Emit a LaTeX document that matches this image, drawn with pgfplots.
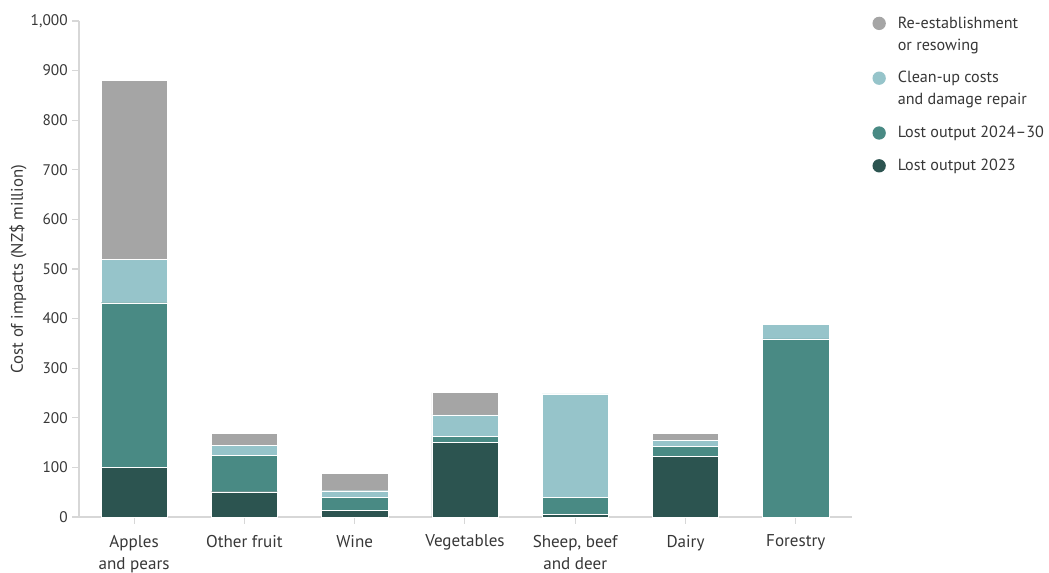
\documentclass[border=0pt]{standalone}
\usepackage{pgfplots}
\pgfplotsset{compat=1.18}
\usepackage{fontspec}
\setmainfont{PT Sans}
\definecolor{cGray}{RGB}{165,165,165}
\definecolor{cLight}{RGB}{150,196,202}
\definecolor{cTeal}{RGB}{73,138,132}
\definecolor{cDark}{RGB}{44,84,80}
\definecolor{cAxis}{RGB}{215,215,215}
\definecolor{cText}{RGB}{55,55,55}
\begin{document}
\begin{tikzpicture}
\path[use as bounding box] (-59.25pt,-41.25pt) rectangle (727.5pt,387.75pt);
\begin{axis}[
  scale only axis,
  width=579.75pt, height=372pt,
  ybar stacked,
  bar width=0.6,
  xmin=-0.5, xmax=6.51,
  ymin=0, ymax=1000,
  ytick={0,100,...,1000},
  xtick=data,
  xticklabels={{Apples\\and pears},{Other fruit},{Wine},{Vegetables},{Sheep, beef\\and deer},{Dairy},{Forestry}},
  x tick label style={align=center, font=\fontsize{12.8}{16.5}\selectfont, text=cText, yshift=-5pt},
  y tick label style={font=\fontsize{11.5}{13}\selectfont, text=cText},
  /pgf/number format/assume math mode=true,
  /pgf/number format/1000 sep={,},
  axis x line*=bottom,
  axis y line*=left,
  axis line style={cAxis, line width=0.8pt},
  tick style={cAxis, line width=0.8pt},
  tick align=outside,
  major tick length=5pt,
  ylabel={Cost of impacts (NZ\$ million)},
  ylabel style={at={(axis description cs:-0.0789,0.5)}, anchor=center, font=\fontsize{12.6}{14}\selectfont, text=cText},
  legend style={draw=none, at={(axis description cs:1.021,1.02)}, anchor=north west,
    font=\fontsize{12.1}{16.5}\selectfont, text=cText, row sep=10.5pt, column sep=7pt,
    nodes={align=left}},
  legend cell align=left,
  reverse legend,
]
\addplot[fill=cDark, draw=white, line width=0.3pt, legend image code/.code={\path[fill=none,draw=none] (-5pt,-5pt) rectangle (5pt,5pt);\fill[cDark, draw=none] (0,0) circle (5pt);}] coordinates {(0,100) (1,51) (2,13) (3,151) (4,6) (5,122) (6,0)};
\addlegendentry{Lost output 2023}
\addplot[fill=cTeal, draw=white, line width=0.3pt, legend image code/.code={\path[fill=none,draw=none] (-5pt,-5pt) rectangle (5pt,5pt);\fill[cTeal, draw=none] (0,0) circle (5pt);}] coordinates {(0,332) (1,73) (2,26) (3,12) (4,34) (5,21) (6,359)};
\addlegendentry{Lost output 2024--30}
\addplot[fill=cLight, draw=white, line width=0.3pt, legend image code/.code={\path[fill=none,draw=none] (-5pt,-5pt) rectangle (5pt,5pt);\fill[cLight, draw=none, overlay] (0,8.25pt) circle (5pt);}] coordinates {(0,88) (1,21) (2,14) (3,43) (4,208) (5,12) (6,30)};
\addlegendentry{Clean-up costs\\and damage repair}
\addplot[fill=cGray, draw=white, line width=0.3pt, legend image code/.code={\path[fill=none,draw=none] (-5pt,-5pt) rectangle (5pt,5pt);\fill[cGray, draw=none, overlay] (0,8.25pt) circle (5pt);}] coordinates {(0,360) (1,24) (2,35) (3,45) (4,0) (5,14) (6,0)};
\addlegendentry{Re-establishment\\or resowing}
\end{axis}
\end{tikzpicture}
\end{document}
